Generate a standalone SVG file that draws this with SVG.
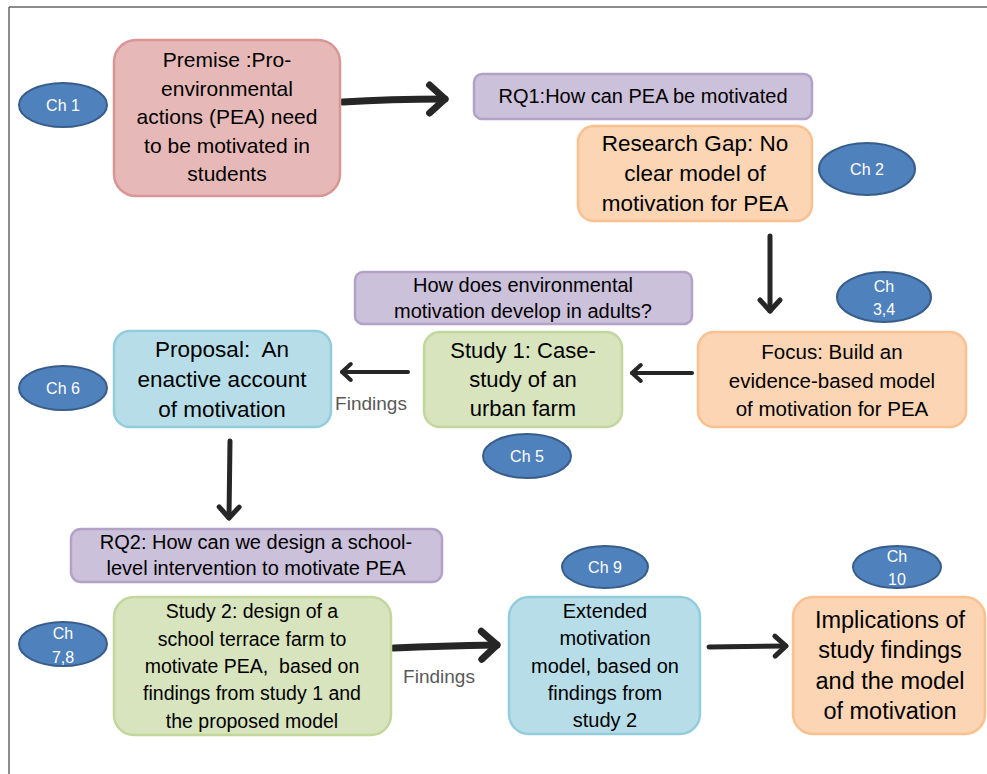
<svg xmlns="http://www.w3.org/2000/svg" width="987" height="774" viewBox="0 0 987 774">
<style>
text{font-family:"Liberation Sans",Arial,sans-serif;text-anchor:middle;fill:#000}
.box{stroke-width:2.5}
.pink{fill:#e6b9b8;stroke:#d99694}
.purple{fill:#ccc1da;stroke:#b3a2c7}
.orange{fill:#fcd5b5;stroke:#fac090}
.green{fill:#d7e4bd;stroke:#c3d69b}
.blue{fill:#b7dee8;stroke:#93cddd}
.ch ellipse{fill:#4f81bd;stroke:#385d8a;stroke-width:2}
.ch text{fill:#fff;font-size:16px}
.arr{fill:none;stroke:#262626;stroke-linecap:round;marker-end:url(#ah)}
.lbl{fill:#595959;font-size:19px}
</style>
<defs>
<marker id="ah" markerUnits="strokeWidth" markerWidth="10" markerHeight="10" refX="0" refY="0" orient="auto" overflow="visible">
<path d="M-2.2,-2 L0,0 L-2.2,2" fill="none" stroke="#262626" stroke-width="1" stroke-linecap="round" stroke-linejoin="round"/>
</marker>
</defs>
<g id="frame" stroke="#666" stroke-width="1.5" fill="none">
<line x1="9" y1="7" x2="987" y2="7"/>
<line x1="9" y1="7" x2="9" y2="774"/>
</g>
<g id="connectors">
<path class="arr" d="M343,102 Q390,99 445,99" stroke-width="7"/>
<path class="arr" d="M770,236 L770,311" stroke-width="5"/>
<path class="arr" d="M692,373 L632,373" stroke-width="4"/>
<path class="arr" d="M408,372 L342,372" stroke-width="4"/>
<path class="arr" d="M230,441 L229,518" stroke-width="5"/>
<path class="arr" d="M394,648 Q440,646 497,645" stroke-width="7"/>
<path class="arr" d="M709,647 L786,646" stroke-width="5"/>
<text class="lbl" x="371" y="410">Findings</text>
<text class="lbl" x="439" y="683">Findings</text>
</g>
<g id="premise">
<rect class="box pink" x="114" y="40" width="226" height="156" rx="22"/>
<text font-size="21"><tspan x="227" y="67">Premise :Pro-</tspan><tspan x="227" y="96">environmental</tspan><tspan x="227" y="124">actions (PEA) need</tspan><tspan x="227" y="153">to be motivated in</tspan><tspan x="227" y="181">students</tspan></text>
</g>
<g id="ch1" class="ch"><ellipse cx="63" cy="105" rx="44" ry="22"/><text x="63" y="111">Ch 1</text></g>
<g id="rq1">
<rect class="box purple" x="474" y="74" width="338" height="45" rx="8"/>
<text font-size="20" x="643" y="103">RQ1:How can PEA be motivated</text>
</g>
<g id="gap">
<rect class="box orange" x="578" y="126" width="234" height="95" rx="16"/>
<text font-size="22.5"><tspan x="695" y="151">Research Gap: No</tspan><tspan x="695" y="181">clear model of</tspan><tspan x="695" y="211">motivation for PEA</tspan></text>
</g>
<g id="ch2" class="ch"><ellipse cx="867" cy="169" rx="48" ry="26"/><text x="867" y="175">Ch 2</text></g>
<g id="q-adults">
<rect class="box purple" x="355" y="272" width="337" height="52" rx="8"/>
<text font-size="20"><tspan x="523" y="292">How does environmental</tspan><tspan x="523" y="318">motivation develop in adults?</tspan></text>
</g>
<g id="ch34" class="ch"><ellipse cx="884" cy="297" rx="47" ry="25"/><text><tspan x="884" y="292">Ch</tspan><tspan x="884" y="315">3,4</tspan></text></g>
<g id="focus">
<rect class="box orange" x="698" y="332" width="268" height="95" rx="16"/>
<text font-size="20.5"><tspan x="832" y="359">Focus: Build an</tspan><tspan x="832" y="388">evidence-based model</tspan><tspan x="832" y="416">of motivation for PEA</tspan></text>
</g>
<g id="study1">
<rect class="box green" x="424" y="332" width="198" height="95" rx="16"/>
<text font-size="22"><tspan x="523" y="358">Study 1: Case-</tspan><tspan x="523" y="387">study of an</tspan><tspan x="523" y="416">urban farm</tspan></text>
</g>
<g id="ch5" class="ch"><ellipse cx="527" cy="456" rx="44" ry="22"/><text x="527" y="462">Ch 5</text></g>
<g id="proposal">
<rect class="box blue" x="114" y="331" width="217" height="96" rx="16"/>
<text font-size="22.5"><tspan x="222" y="357">Proposal:&#160; An</tspan><tspan x="222" y="387">enactive account</tspan><tspan x="222" y="417">of motivation</tspan></text>
</g>
<g id="ch6" class="ch"><ellipse cx="63" cy="388" rx="44" ry="22"/><text x="63" y="394">Ch 6</text></g>
<g id="rq2">
<rect class="box purple" x="71" y="529" width="371" height="53" rx="10"/>
<text font-size="20"><tspan x="256" y="549">RQ2: How can we design a school-</tspan><tspan x="256" y="575">level intervention to motivate PEA</tspan></text>
</g>
<g id="study2">
<rect class="box green" x="114" y="597" width="277" height="138" rx="20"/>
<text font-size="19.5"><tspan x="252" y="618">Study 2: design of a</tspan><tspan x="252" y="646">school terrace farm to</tspan><tspan x="252" y="673">motivate PEA,&#160; based on</tspan><tspan x="252" y="700">findings from study 1 and</tspan><tspan x="252" y="728">the proposed model</tspan></text>
</g>
<g id="ch78" class="ch"><ellipse cx="63" cy="644" rx="44" ry="22"/><text><tspan x="63" y="639">Ch</tspan><tspan x="63" y="663">7,8</tspan></text></g>
<g id="extended">
<rect class="box blue" x="509" y="597" width="191" height="137" rx="20"/>
<text font-size="20"><tspan x="605" y="618">Extended</tspan><tspan x="605" y="645">motivation</tspan><tspan x="605" y="673">model, based on</tspan><tspan x="605" y="700">findings from</tspan><tspan x="605" y="727">study 2</tspan></text>
</g>
<g id="ch9" class="ch"><ellipse cx="605" cy="567" rx="43" ry="21"/><text x="605" y="573">Ch 9</text></g>
<g id="implications">
<rect class="box orange" x="793" y="597" width="192" height="137" rx="20"/>
<text font-size="23.5"><tspan x="890" y="628">Implications of</tspan><tspan x="890" y="658">study findings</tspan><tspan x="890" y="689">and the model</tspan><tspan x="890" y="719">of motivation</tspan></text>
</g>
<g id="ch10" class="ch"><ellipse cx="897" cy="567" rx="44" ry="21"/><text><tspan x="897" y="562">Ch</tspan><tspan x="897" y="585">10</tspan></text></g>
</svg>
